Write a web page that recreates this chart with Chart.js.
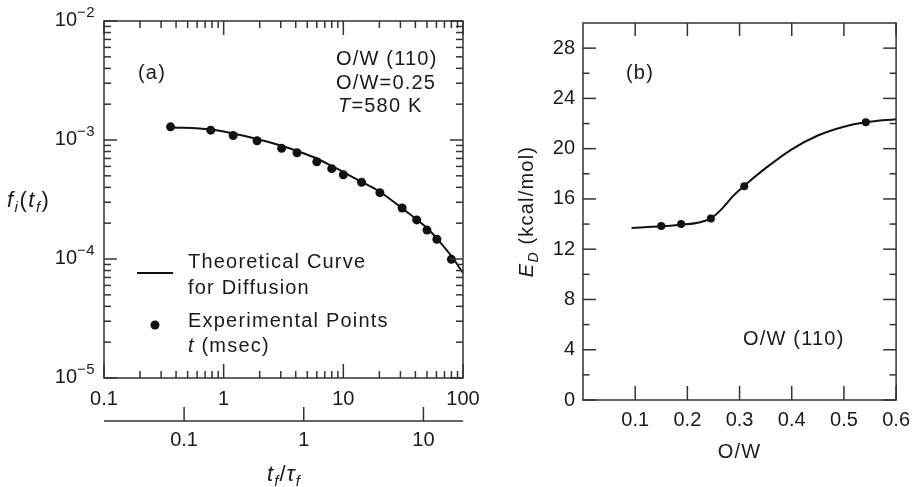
<!DOCTYPE html>
<html><head><meta charset="utf-8">
<script src="https://cdn.jsdelivr.net/npm/chart.js@4.4.1/dist/chart.umd.min.js"></script>
<style>
html,body{margin:0;padding:0;background:#fff;}
#wrap{position:relative;width:918px;height:487px;overflow:hidden;background:#fff;}
#ca{position:absolute;left:0;top:0;}
#cb{position:absolute;left:470px;top:0;}
</style></head><body>
<div id="wrap">
<canvas id="ca" width="490" height="487"></canvas>
<canvas id="cb" width="448" height="487"></canvas>
</div>
<script>
// ---------- Panel (a) data ----------
const tExp = [0.36, 0.78, 1.2, 1.9, 3.05, 4.1, 6.0, 8.0, 10, 14.2, 20.2, 31, 41, 50, 60.5, 80];
const fExp = [1.29e-3, 1.21e-3, 1.09e-3, 9.86e-4, 8.51e-4, 7.82e-4, 6.57e-4, 5.74e-4, 5.11e-4, 4.41e-4, 3.61e-4, 2.68e-4, 2.13e-4, 1.75e-4, 1.465e-4, 9.94e-5];
const tCurve = [0.356, 0.78, 1.2, 1.9, 3.0, 4.0, 6.0, 8.0, 10, 14, 20, 30, 40, 50, 60, 80, 100];
const fCurve = [1.28e-3, 1.224e-3, 1.134e-3, 1.02e-3, 8.99e-4, 8.16e-4, 6.99e-4, 6.05e-4, 5.38e-4, 4.48e-4, 3.69e-4, 2.735e-4, 2.19e-4, 1.82e-4, 1.50e-4, 1.06e-4, 7.63e-5];
const xTicksA = [0.1, 1, 10, 100];
const x2TicksA = [0.1, 1, 10];
const yTicksA = [1e-5, 1e-4, 1e-3, 1e-2];
const xMinA = 0.1, xMaxA = 100, yMinA = 1e-5, yMaxA = 1e-2;
const tauF = 4.67; // t (msec) per unit of t_f/tau_f

// ---------- Panel (b) data ----------
const owPts = [0.15, 0.188, 0.245, 0.309, 0.542];
const edPts = [13.85, 14.0, 14.45, 17.0, 22.1];
const owCurve = [0.093, 0.15, 0.188, 0.225, 0.245, 0.267, 0.287, 0.309, 0.35, 0.40, 0.45, 0.50, 0.542, 0.60];
const edCurve = [13.68, 13.82, 13.95, 14.15, 14.45, 15.25, 16.2, 17.05, 18.45, 19.95, 21.05, 21.75, 22.1, 22.35];
const xTicksB = [0.1, 0.2, 0.3, 0.4, 0.5, 0.6];
const yTicksB = [0, 4, 8, 12, 16, 20, 24, 28];
const yMinorB = [2, 6, 10, 14, 18, 22, 26];

const FONT = '"Liberation Sans", Arial, Helvetica, sans-serif';
const INK = '#1a1a1a';
const AXIS = '#333333';

function rich(ctx, parts, x, y, align) {
  ctx.save();
  ctx.textBaseline = 'alphabetic';
  ctx.fillStyle = INK;
  const set = p => { ctx.font = (p.it ? 'italic ' : '') + (p.size || 20) + 'px ' + FONT; ctx.letterSpacing = (p.ls === undefined ? 1.2 : p.ls) + 'px'; };
  const w = parts.map(p => { set(p); return ctx.measureText(p.t).width + (p.gap || 0); });
  const total = w.reduce((a, b) => a + b, 0);
  let cx = align === 'center' ? x - total / 2 : (align === 'right' ? x - total : x);
  parts.forEach((p, i) => { set(p); ctx.fillText(p.t, cx, y + (p.dy || 0)); cx += w[i]; });
  ctx.restore();
}

function logMarks(min, max) {
  const out = [];
  for (let e = Math.floor(Math.log10(min)) ; e <= Math.ceil(Math.log10(max)); e++) {
    for (let m = 1; m < 10; m++) {
      const v = m * Math.pow(10, e);
      if (v >= min * 0.999 && v <= max * 1.001) out.push({ v, major: m === 1 });
    }
  }
  return out;
}

function line(ctx, x1, y1, x2, y2) { ctx.beginPath(); ctx.moveTo(x1, y1); ctx.lineTo(x2, y2); ctx.stroke(); }

const pts = (xs, ys) => xs.map((x, i) => ({ x, y: ys[i] }));

const decoA = {
  id: 'decoA',
  afterDraw(chart) {
    const { ctx, chartArea: a, scales: { x, y, x2 } } = chart;
    ctx.save();
    ctx.strokeStyle = AXIS; ctx.lineWidth = 1.5;
    ctx.strokeRect(a.left, a.top, a.right - a.left, a.bottom - a.top);
    logMarks(x.min, x.max).forEach(m => {
      const px = x.getPixelForValue(m.v), L = m.major ? 14 : 7;
      line(ctx, px, a.bottom, px, a.bottom - L);
      line(ctx, px, a.top, px, a.top + L);
    });
    logMarks(y.min, y.max).forEach(m => {
      const py = y.getPixelForValue(m.v), L = m.major ? 13 : 7;
      line(ctx, a.left, py, a.left + L, py);
      line(ctx, a.right, py, a.right - L, py);
    });
    // secondary axis t_f / tau_f
    line(ctx, a.left, x2.top, a.right, x2.top);
    x2TicksA.forEach(v => { const px = x2.getPixelForValue(v); line(ctx, px, x2.top, px, x2.top - 14); });
    ctx.restore();
    // y tick labels 10^n
    yTicksA.forEach(v => {
      const py = y.getPixelForValue(v);
      const e = Math.round(Math.log10(v));
      rich(ctx, [{ t: '10', size: 20, ls: 0 }], a.left - 27, py + 5, 'right');
      rich(ctx, [{ t: (e < 0 ? '\u2212' : '') + Math.abs(e), size: 15, ls: 0.5 }], a.left - 27, py - 4, 'left');
    });
    // axis titles
    rich(ctx, [{ t: 'f', it: true, size: 22, ls: 1.5 }, { t: 'i', it: true, size: 15, dy: 5, ls: 1.5 }, { t: '(', size: 22, ls: 1.5 }, { t: 't', it: true, size: 22, ls: 1.5 }, { t: 'f', it: true, size: 15, dy: 5, ls: 1.5 }, { t: ')', size: 22, ls: 0 }], 7, 207, 'left');
    rich(ctx, [{ t: 't', it: true, size: 22, ls: 1 }, { t: 'f', it: true, size: 15, dy: 5, ls: 1 }, { t: '/', size: 22, ls: 1 }, { t: '\u03C4', it: true, size: 22, ls: 1 }, { t: 'f', it: true, size: 15, dy: 5, ls: 0 }], (a.left + a.right) / 2, 481, 'center');
    // annotations
    rich(ctx, [{ t: '(a)' }], 138, 79, 'left');
    rich(ctx, [{ t: 'O/W (110)' }], 336, 65, 'left');
    rich(ctx, [{ t: 'O/W=0.25' }], 336, 89, 'left');
    rich(ctx, [{ t: 'T', it: true }, { t: '=580 K' }], 338, 112, 'left');
    // legend
    ctx.save();
    ctx.strokeStyle = '#111'; ctx.lineWidth = 2;
    line(ctx, 137, 273, 173, 273);
    ctx.fillStyle = '#111'; ctx.beginPath(); ctx.arc(155, 325, 4.5, 0, Math.PI * 2); ctx.fill();
    ctx.restore();
    rich(ctx, [{ t: 'Theoretical Curve' }], 188, 268, 'left');
    rich(ctx, [{ t: 'for Diffusion' }], 188, 294, 'left');
    rich(ctx, [{ t: 'Experimental Points' }], 188, 327, 'left');
    rich(ctx, [{ t: 't', it: true }, { t: ' (msec)' }], 188, 352, 'left');
  }
};

const decoB = {
  id: 'decoB',
  afterDraw(chart) {
    const { ctx, chartArea: a, scales: { x, y } } = chart;
    ctx.save();
    ctx.strokeStyle = AXIS; ctx.lineWidth = 1.5;
    ctx.strokeRect(a.left, a.top, a.right - a.left, a.bottom - a.top);
    xTicksB.forEach(v => {
      const px = x.getPixelForValue(v);
      line(ctx, px, a.bottom, px, a.bottom - 14);
      line(ctx, px, a.top, px, a.top + 13);
    });
    yTicksB.forEach(v => {
      const py = y.getPixelForValue(v);
      line(ctx, a.left, py, a.left + 13, py);
      line(ctx, a.right, py, a.right - 13, py);
    });
    yMinorB.forEach(v => {
      const py = y.getPixelForValue(v);
      line(ctx, a.left, py, a.left + 6.5, py);
      line(ctx, a.right, py, a.right - 6.5, py);
    });
    ctx.restore();
    // titles
    rich(ctx, [{ t: 'O/W' }], (a.left + a.right) / 2, 458, 'center');
    ctx.save();
    ctx.translate(63, (a.top + a.bottom) / 2);
    ctx.rotate(-Math.PI / 2);
    rich(ctx, [{ t: 'E', it: true, size: 20 }, { t: 'D', it: true, size: 14, dy: 5 }, { t: ' (kcal/mol)', size: 20 }], 0, 0, 'center');
    ctx.restore();
    rich(ctx, [{ t: '(b)' }], 156, 79, 'left');
    rich(ctx, [{ t: 'O/W (110)' }], 273, 345, 'left');
  }
};

const tickFont = { family: FONT, size: 20 };

new Chart(document.getElementById('ca'), {
  type: 'scatter',
  data: {
    datasets: [
      { data: pts(tExp, fExp), pointRadius: 4.5, pointBackgroundColor: '#111', pointBorderWidth: 0, showLine: false },
      { data: pts(tCurve, fCurve), showLine: true, pointRadius: 0, borderColor: '#111', borderWidth: 2, cubicInterpolationMode: 'monotone' }
    ]
  },
  options: {
    responsive: false, animation: false,
    layout: { padding: { top: 21, right: 27, left: 0, bottom: 0 } },
    plugins: { legend: { display: false }, tooltip: { enabled: false } },
    scales: {
      x: {
        type: 'logarithmic', position: 'bottom', weight: 0, min: xMinA, max: xMaxA,
        grid: { display: false, drawTicks: false }, border: { display: false },
        afterBuildTicks: s => { s.ticks = xTicksA.map(v => ({ value: v })); },
        ticks: { font: tickFont, color: INK, padding: 9, maxRotation: 0, autoSkip: false, callback: v => String(v) },
        afterFit: s => { s.height = 43; }
      },
      x2: {
        type: 'logarithmic', position: 'bottom', weight: 1, min: xMinA / tauF, max: xMaxA / tauF,
        grid: { display: false, drawTicks: false }, border: { display: false },
        afterBuildTicks: s => { s.ticks = x2TicksA.map(v => ({ value: v })); },
        ticks: { font: tickFont, color: INK, padding: 7, maxRotation: 0, autoSkip: false, callback: v => String(v) },
        afterFit: s => { s.height = 66; }
      },
      y: {
        type: 'logarithmic', position: 'left', min: yMinA, max: yMaxA,
        grid: { display: false, drawTicks: false }, border: { display: false },
        afterBuildTicks: s => { s.ticks = yTicksA.map(v => ({ value: v })); },
        ticks: { display: false },
        afterFit: s => { s.width = 104; }
      }
    }
  },
  plugins: [decoA]
});

new Chart(document.getElementById('cb'), {
  type: 'scatter',
  data: {
    datasets: [
      { data: pts(owPts, edPts), pointRadius: 4, pointBackgroundColor: '#111', pointBorderWidth: 0, showLine: false },
      { data: pts(owCurve, edCurve), showLine: true, pointRadius: 0, borderColor: '#111', borderWidth: 2, cubicInterpolationMode: 'monotone' }
    ]
  },
  options: {
    responsive: false, animation: false,
    layout: { padding: { top: 23, right: 20, left: 0, bottom: 0 } },
    plugins: { legend: { display: false }, tooltip: { enabled: false } },
    scales: {
      x: {
        type: 'linear', position: 'bottom', min: 0, max: 0.6,
        grid: { display: false, drawTicks: false }, border: { display: false },
        afterBuildTicks: s => { s.ticks = xTicksB.map(v => ({ value: v })); },
        ticks: { font: tickFont, color: INK, padding: 8, maxRotation: 0, autoSkip: false, callback: v => Number(v).toFixed(1) },
        afterFit: s => { s.height = 87; }
      },
      y: {
        type: 'linear', position: 'left', min: 0, max: 30,
        grid: { display: false, drawTicks: false }, border: { display: false },
        afterBuildTicks: s => { s.ticks = yTicksB.map(v => ({ value: v })); },
        ticks: { font: tickFont, color: INK, padding: 8, autoSkip: false, callback: v => String(v) },
        afterFit: s => { s.width = 113; }
      }
    }
  },
  plugins: [decoB]
});
</script>
</body></html>
